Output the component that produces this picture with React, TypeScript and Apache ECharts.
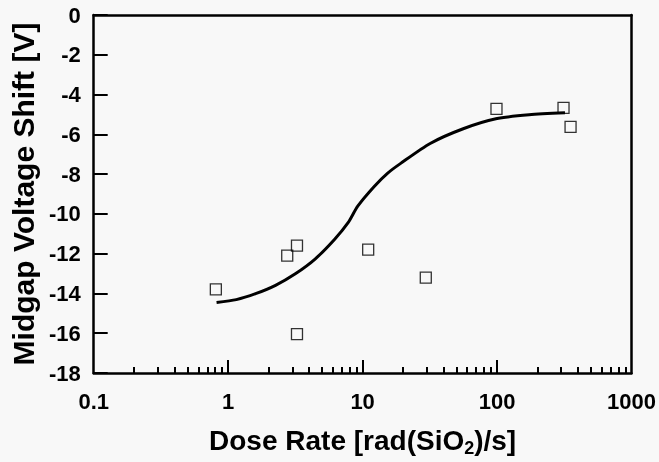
import React, { useEffect, useRef } from "react";
import * as echarts from "echarts";

// Measured points: dose rate [rad(SiO2)/s] and midgap voltage shift [V]
const doseRates = [0.81, 2.75, 3.25, 3.25, 11, 29.5, 99, 312, 352];
const voltageShifts = [-13.8, -12.1, -11.6, -16.05, -11.8, -13.2, -4.72, -4.67, -5.62];

// Fitted curve
const curveX = [0.82, 1.15, 1.6, 2.25, 3.16, 4.43, 6.2, 7.8, 9.2, 12.2, 15.3, 19.2, 31.8, 56, 98, 173, 320];
const curveY = [-14.46, -14.31, -14.01, -13.59, -13.01, -12.27, -11.27, -10.44, -9.61, -8.62, -7.96, -7.46, -6.46, -5.72, -5.22, -5.02, -4.92];

// Axis ticks (x: log decades and their minor ticks)
const xMajorTicks = [1, 10, 100];
const xMinorTicks = [
  0.2, 0.3, 0.4, 0.5, 0.6, 0.7, 0.8, 0.9,
  2, 3, 4, 5, 6, 7, 8, 9,
  20, 30, 40, 50, 60, 70, 80, 90,
  200, 300, 400, 500, 600, 700, 800, 900,
];
const xMin = 0.1;
const xMax = 1000;
const yMin = -18;
const yMax = 0;
const yInterval = 2;

const FONT = "'Liberation Sans', Arial, Helvetica, sans-serif";

const mkAxisLine = () => ({ show: true, onZero: false, lineStyle: { color: "#000", width: 2.5 } });

export default function App() {
  const ref = useRef<HTMLDivElement>(null);

  useEffect(() => {
    document.body.style.margin = "0";
    document.body.style.background = "#f8f8f8";
    if (!ref.current) return;
    const chart = echarts.init(ref.current, undefined, { renderer: "svg" });

    // tick lengths in y data units (1 unit ≈ 20 px)
    const minorLen = 0.3;
    const majorLen = 0.65;
    const tickLines = [
      ...xMinorTicks.map((v) => [{ coord: [v, yMin] }, { coord: [v, yMin + minorLen] }]),
      ...xMajorTicks.map((v) => [{ coord: [v, yMin] }, { coord: [v, yMin + majorLen] }]),
    ];

    chart.setOption({
      animation: false,
      grid: { left: 89, right: 25, top: 15, bottom: 85 },
      xAxis: [
        {
          type: "log",
          logBase: 10,
          min: xMin,
          max: xMax,
          position: "bottom",
          name: "Dose Rate [rad(SiO{sub|2})/s]",
          nameLocation: "middle",
          nameGap: 50,
          nameTextStyle: {
            fontFamily: FONT,
            fontWeight: "bold",
            fontSize: 28,
            color: "#000",
            rich: {
              sub: {
                fontFamily: FONT,
                fontWeight: "bold",
                fontSize: 18,
                color: "#000",
                padding: [16, 0, 0, 0],
              },
            },
          },
          axisLine: mkAxisLine(),
          axisTick: { show: false },
          splitLine: { show: false },
          axisLabel: {
            margin: 17,
            fontFamily: FONT,
            fontWeight: "bold",
            fontSize: 22,
            color: "#000",
            formatter: (v: number) => String(v),
          },
        },
        {
          type: "log",
          logBase: 10,
          min: xMin,
          max: xMax,
          position: "top",
          axisLine: mkAxisLine(),
          axisTick: { show: false },
          axisLabel: { show: false },
          splitLine: { show: false },
        },
      ],
      yAxis: [
        {
          type: "value",
          min: yMin,
          max: yMax,
          interval: yInterval,
          position: "left",
          name: "Midgap Voltage Shift [V]",
          nameLocation: "middle",
          nameRotate: 90,
          nameGap: 50,
          nameTextStyle: {
            fontFamily: FONT,
            fontWeight: "bold",
            fontSize: 30,
            color: "#000",
          },
          axisLine: mkAxisLine(),
          axisTick: { show: true, inside: true, length: 14, lineStyle: { color: "#000", width: 2 } },
          splitLine: { show: false },
          axisLabel: {
            margin: 13,
            fontFamily: FONT,
            fontWeight: "bold",
            fontSize: 22,
            color: "#000",
          },
        },
        {
          type: "value",
          min: yMin,
          max: yMax,
          interval: yInterval,
          position: "right",
          axisLine: mkAxisLine(),
          axisTick: { show: false },
          axisLabel: { show: false },
          splitLine: { show: false },
        },
      ],
      series: [
        {
          type: "line",
          xAxisIndex: 0,
          yAxisIndex: 0,
          data: curveX.map((x, i) => [x, curveY[i]]),
          smooth: 0.25,
          showSymbol: false,
          symbol: "none",
          lineStyle: { color: "#000", width: 3 },
          z: 4,
        },
        {
          type: "scatter",
          xAxisIndex: 0,
          yAxisIndex: 0,
          data: doseRates.map((x, i) => [x, voltageShifts[i]]),
          symbol: "rect",
          symbolSize: 11,
          itemStyle: { color: "rgba(0,0,0,0)", borderColor: "#000", borderWidth: 1.3 },
          z: 5,
          markLine: {
            silent: true,
            symbol: ["none", "none"],
            label: { show: false },
            lineStyle: { color: "#000", width: 2, type: "solid" },
            data: tickLines,
          },
        },
      ],
    });

    return () => chart.dispose();
  }, []);

  return (
    <div
      ref={ref}
      style={{ position: "fixed", left: 0, top: 0, width: 659, height: 462 }}
    />
  );
}
